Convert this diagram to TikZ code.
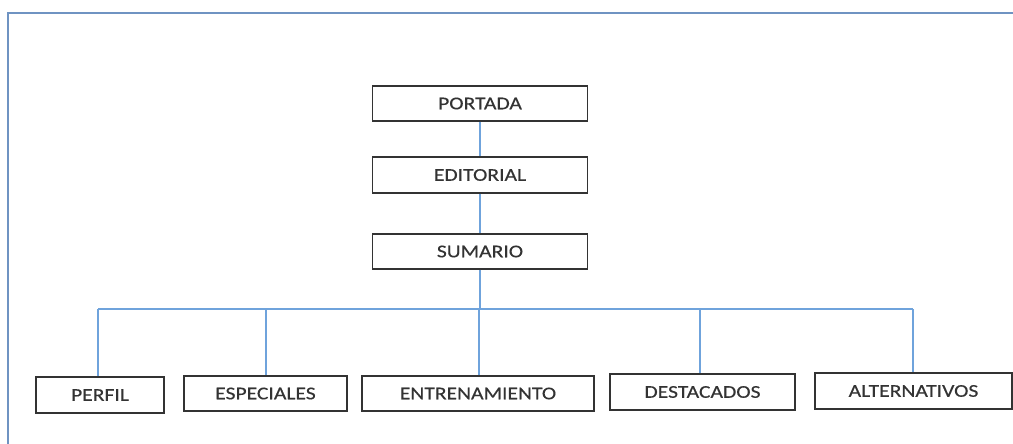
\documentclass[tikz,border=0pt]{standalone}
\usepackage{fontspec}
\setmainfont{Carlito}[FakeStretch=1.2,FakeBold=0.4]
\definecolor{framec}{HTML}{6F93C2}
\definecolor{linec}{HTML}{6FA3DC}
\definecolor{boxc}{HTML}{333333}
\definecolor{txtc}{HTML}{333333}
\begin{document}
\begin{tikzpicture}[x=1pt,y=-1pt,
  box/.style={draw=boxc,line width=1.4pt,rectangle,inner sep=0pt,
    text=txtc,font=\fontsize{18}{20}\selectfont},
  link/.style={draw=linec,line width=1.3pt},
  frm/.style={draw=framec,line width=2pt}]
\useasboundingbox (0,0) rectangle (1013,444);
\coordinate (f0) at (7.5,446);
\coordinate (f1) at (7.5,13.5);
\coordinate (f2) at (1015,13.5);
\draw[frm] (f0) -- (f1) -- (f2);

\node[box,minimum width=215pt,minimum height=35pt] (por) at (480,103.5) {PORTADA};
\node[box,minimum width=215pt,minimum height=36pt] (edi) at (480,175) {EDITORIAL};
\node[box,minimum width=215pt,minimum height=35pt] (sum) at (480,251.5) {SUMARIO};

\node[box,minimum width=128pt,minimum height=36pt] (per) at (100,395) {PERFIL};
\node[box,minimum width=163pt,minimum height=35pt] (esp) at (265.5,393.5) {ESPECIALES};
\node[box,minimum width=232pt,minimum height=35pt] (ent) at (478,393.5) {ENTRENAMIENTO};
\node[box,minimum width=185pt,minimum height=36pt] (des) at (702.5,392) {DESTACADOS};
\node[box,minimum width=197pt,minimum height=36pt] (alt) at (913.5,391) {ALTERNATIVOS};

\coordinate (bc) at (480,309);
\coordinate (b1) at (98,309);
\coordinate (b2) at (266,309);
\coordinate (b3) at (479,309);
\coordinate (b4) at (700,309);
\coordinate (b5) at (913,309);

\draw[link] (por.south) -- (edi.north);
\draw[link] (edi.south) -- (sum.north);
\draw[link] (sum.south) -- (bc);
\draw[link] (b1) -- (b5);
\draw[link] (b1) -- (b1 |- per.north);
\draw[link] (b2) -- (b2 |- esp.north);
\draw[link] (b3) -- (b3 |- ent.north);
\draw[link] (b4) -- (b4 |- des.north);
\draw[link] (b5) -- (b5 |- alt.north);
\end{tikzpicture}
\end{document}
